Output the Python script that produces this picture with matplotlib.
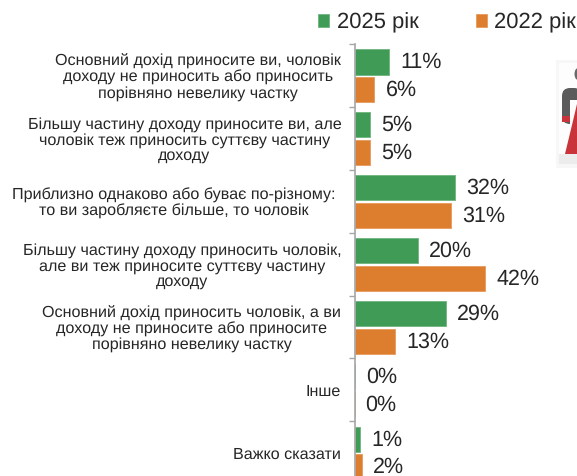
import numpy as np
import matplotlib.pyplot as plt
from matplotlib.patches import Rectangle, Polygon, Ellipse, FancyBboxPatch
from matplotlib.ticker import FixedLocator
from matplotlib.transforms import ScaledTranslation

plt.rcParams['font.family'] = ['Liberation Sans', 'DejaVu Sans']
plt.rcParams['text.hinting'] = 'no_hinting'

categories = [
    "Основний дохід приносите ви, чоловік\nдоходу не приносить або приносить\nпорівняно невелику частку",
    "Більшу частину доходу приносите ви, але\nчоловік теж приносить суттєву частину\nдоходу",
    "Приблизно однаково або буває по-різному:\nто ви заробляєте більше, то чоловік",
    "Більшу частину доходу приносить чоловік,\nале ви теж приносите суттєву частину\nдоходу",
    "Основний дохід приносить чоловік, а ви\nдоходу не приносите або приносите\nпорівняно невелику частку",
    "Інше",
    "Важко сказати",
]
values_2025 = [11, 5, 32, 20, 29, 0.3, 1.7]
values_2022 = [6.3, 5, 30.6, 41.5, 13, 0, 2.4]
labels_2025 = ["11%", "5%", "32%", "20%", "29%", "0%", "1%"]
labels_2022 = ["6%", "5%", "31%", "42%", "13%", "0%", "2%"]

GREEN = '#3f9b56'
ORANGE = '#dd7d2e'
W, H = 577, 476

fig = plt.figure(figsize=(W / 100, H / 100), dpi=100)
ax = fig.add_axes([354.5 / W, 0, (W - 354.5) / W, (H - 44) / H])
ax.patch.set_alpha(0)

y = np.arange(len(categories))
bars_a = ax.barh(y - 0.215, values_2025, height=0.40, color=GREEN, edgecolor='#6db57f', linewidth=0.6, label="2025 рік")
bars_b = ax.barh(y + 0.225, values_2022, height=0.40, color=ORANGE, edgecolor='#e79a5c', linewidth=0.6, label="2022 рік")

ax.set_xlim(0, (W - 354.5) / 3.15)
ax.set_ylim((H - 76) / 62.8, -0.5)

for bars, labels in ((bars_a, labels_2025), (bars_b, labels_2022)):
    for bar, text in zip(bars, labels):
        ax.annotate(text, (bar.get_width(), bar.get_y() + bar.get_height() / 2),
                    xytext=(8, -0.5), textcoords='offset points', va='center', ha='left',
                    fontsize=15.5, color='#262626', annotation_clip=False)

for side in ('top', 'right', 'bottom'):
    ax.spines[side].set_visible(False)
ax.spines['left'].set_color('#a6a6a6')
ax.spines['left'].set_linewidth(1.2)
ax.xaxis.set_visible(False)

ax.set_yticks(y)
ax.set_yticklabels(categories, fontsize=11.6, color='#262626', ha='right', multialignment='center', linespacing=1.05)
ax.tick_params(axis='y', which='major', length=0, pad=9.5)
ax.yaxis.set_minor_locator(FixedLocator(np.arange(len(categories)) + 0.5 - 1))
ax.tick_params(axis='y', which='minor', length=4, width=1, color='#a6a6a6')

# the third label sits a bit further left than the others
third = ax.get_yticklabels()[2]
third.set_transform(third.get_transform() + ScaledTranslation(-6 / 100, 0, fig.dpi_scale_trans))

fig.legend(handles=[bars_a, bars_b], loc='upper left', bbox_to_anchor=(305 / W, 1 + 1 / H), ncol=2,
           frameon=False, fontsize=15.8, handlelength=0.5, handleheight=0.5, handletextpad=0.35,
           columnspacing=2.6, labelcolor='#262626', borderaxespad=0.2)

# card with the woman icon, cut off by the right edge
icon = fig.add_axes([0, 0, 1, 1], zorder=-1)
icon.set_xlim(0, W)
icon.set_ylim(H, 0)
icon.axis('off')
icon.add_patch(Rectangle((556, 60), 21, 108, color='#f7f7f7', lw=0))
icon.add_patch(Rectangle((559, 63), 18, 100, color='#fdfdfd', lw=0))
icon.add_patch(Rectangle((559, 154), 18, 10, color='#ececec', lw=0))
icon.add_patch(Ellipse((578, 74), 7, 12, color='#6a6a6a', lw=0))
icon.add_patch(FancyBboxPatch((562, 88), 20, 36, boxstyle='round,pad=0,rounding_size=8', color='#5b5b5b', lw=0))
icon.add_patch(Rectangle((570, 100), 7, 30, color='#fdfdfd', lw=0))
icon.add_patch(Rectangle((562, 116), 8, 6, color='#c8343a', lw=0))
icon.add_patch(Polygon([(577, 104), (577, 154), (565, 154), (572, 125)], closed=True, color='#c8343a', lw=0))

fig.savefig('out.png', dpi=100)
